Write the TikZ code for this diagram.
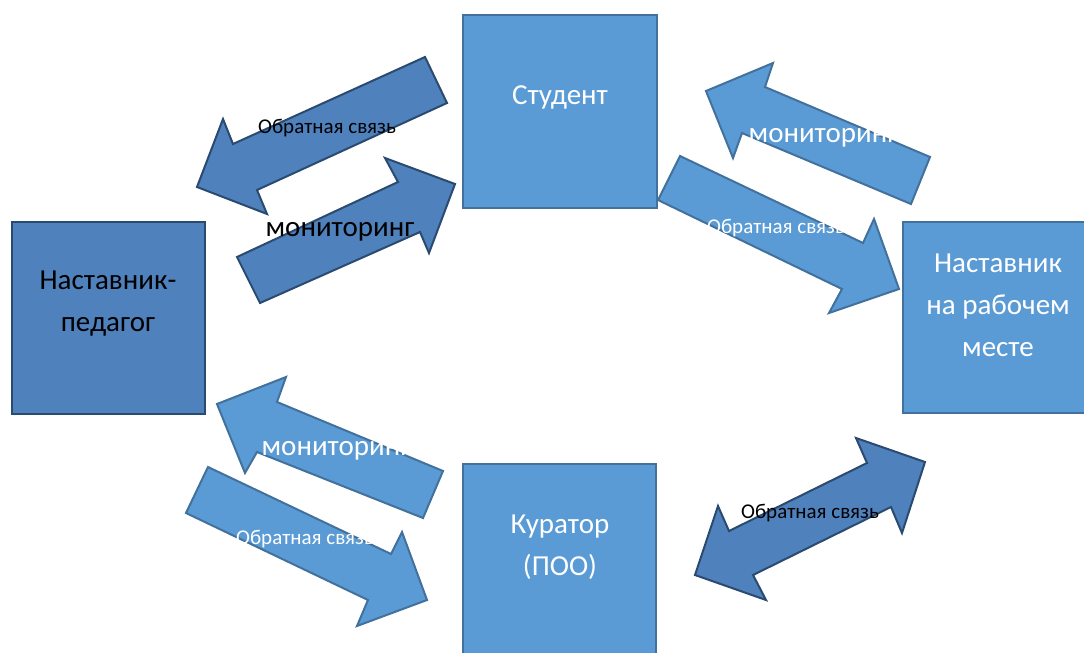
\documentclass[tikz,border=0pt]{standalone}
\usepackage{fontspec}
\setmainfont{Carlito}
\definecolor{lightfill}{HTML}{5B9BD5}
\definecolor{lightline}{HTML}{41719C}
\definecolor{darkfill}{HTML}{4F81BD}
\definecolor{darkline}{HTML}{2B4A6F}
\tikzset{
  lightbox/.style={draw=lightline, fill=lightfill, line width=2pt, inner sep=0pt, rectangle},
  darkbox/.style={draw=darkline, fill=darkfill, line width=2pt, inner sep=0pt, rectangle},
  lightarrow/.style={draw=lightline, fill=lightfill, line width=2pt, line join=miter},
  darkarrow/.style={draw=darkline, fill=darkfill, line width=2pt, line join=miter},
  boxtext/.style={align=center, font=\fontsize{29}{42}\selectfont, inner sep=0pt},
  bigtext/.style={font=\fontsize{29}{34}\selectfont, inner sep=0pt},
  smalltext/.style={font=\fontsize{21}{25}\selectfont, inner sep=0pt}
}
\begin{document}
\begin{tikzpicture}[x=1pt,y=-1pt]
\clip (0,0) rectangle (1084,653);
\fill[white] (0,0) rectangle (1084,653);

% boxes
\node[lightbox, minimum width=194pt, minimum height=193pt] (student) at (560,111.5) {};
\node[darkbox, minimum width=193pt, minimum height=192pt] (pedagog) at (108.5,318) {};
\node[lightbox, minimum width=200pt, minimum height=191pt] (work) at (1003,317.5) {};
\node[lightbox, minimum width=193pt, minimum height=210pt] (curator) at (559.5,569) {};

\node[boxtext, text=white] (tstudent) at (560,97) {Студент};
\node[boxtext, text=black] (tpedagog) at (108,304) {Наставник-\\педагог};
\node[boxtext, text=white] (twork) at (998,305) {Наставник\\на рабочем\\месте};
\node[boxtext, text=white] (tcurator) at (560,547) {Куратор\\(ПОО)};

% arrow 1: feedback student -> pedagog (dark)
\draw[darkarrow] (425,57) -- (447,103) -- (257,190) -- (267,214) -- (197,187) -- (223,119) -- (233,144) -- cycle;
\node[smalltext, text=black] (a1) at (327,128) {Обратная связь};

% arrow 2: monitoring pedagog -> student (dark)
\draw[darkarrow] (237,257) -- (398,182) -- (385,158) -- (455,184) -- (429,253) -- (420,232) -- (260,303) -- cycle;
\node[bigtext, text=black] (a2) at (340,232) {мониторинг};

% arrow 3: monitoring work -> student (light)
\draw[lightarrow] (706,91) -- (773,63) -- (765,87) -- (930,157) -- (911,204) -- (742,133) -- (733,158) -- cycle;
\node[bigtext, text=white] (a3) at (823,138) {мониторинг};

% arrow 4: feedback student -> work (light)
\draw[lightarrow] (680,156) -- (863,243) -- (874,219) -- (899,289) -- (829,313) -- (842,289) -- (658,200) -- cycle;
\node[smalltext, text=white] (a4) at (776,228) {Обратная связь};

% arrow 5: monitoring curator -> pedagog (light)
\draw[lightarrow] (217,404) -- (286,377) -- (277,402) -- (443,471) -- (423,518) -- (257,452) -- (245,473) -- cycle;
\node[bigtext, text=white] (a5) at (336,451) {мониторинг};

% arrow 6: feedback pedagog -> curator (light)
\draw[lightarrow] (208,467) -- (391,554) -- (402,532) -- (427,600) -- (357,626) -- (368,600) -- (186,513) -- cycle;
\node[smalltext, text=white] (a6) at (305,539) {Обратная связь};

% arrow 7: double arrow curator <-> work (dark)
\draw[darkarrow] (695,575) -- (718,506) -- (729,531) -- (867,463) -- (856,438) -- (925,462) -- (902,533) -- (891,507) -- (753,575) -- (766,600) -- cycle;
\node[smalltext, text=black] (a7) at (810,513) {Обратная связь};
\end{tikzpicture}
\end{document}
